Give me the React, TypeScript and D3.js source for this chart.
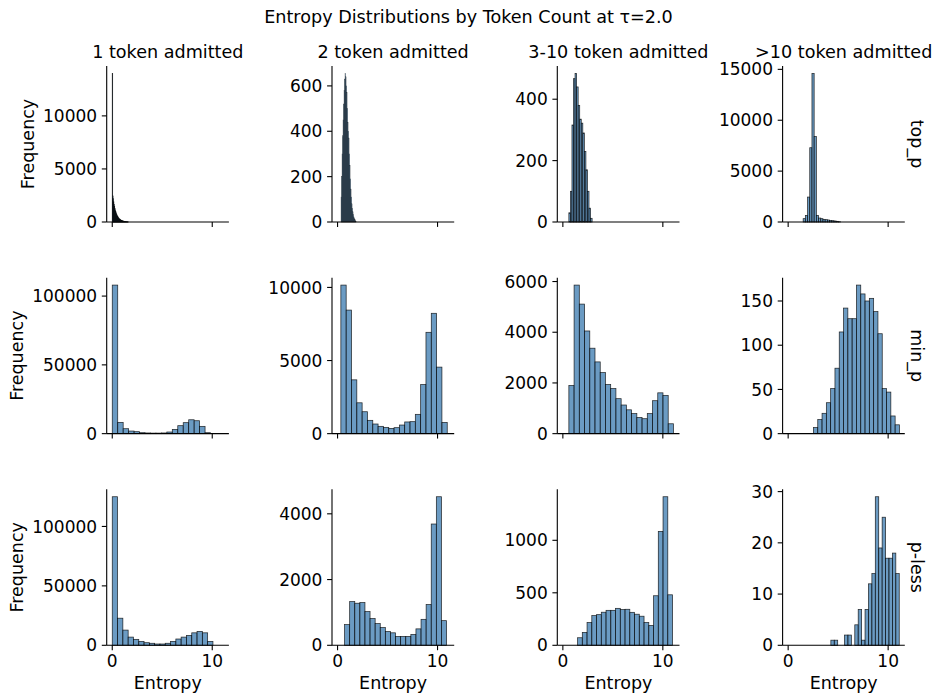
import React from "react";
import * as d3 from "d3";

// Facet labels
const methods = ["top_p", "min_p", "p-less"];
const tokenGroups = ["1 token admitted", "2 token admitted", "3-10 token admitted", ">10 token admitted"];

// Histogram counts per facet (row = sampling method, column = token group)
const topP1 = [14000, 2450, 2200, 1900, 1650, 1450, 1280, 1130, 990, 870, 760, 670, 590, 510, 450, 390, 345, 300, 265, 230, 200, 175, 155, 135, 120, 105, 92, 80, 70, 60, 52, 45, 38, 32, 27, 22, 18, 14, 10, 7];
const topP2 = [110, 200, 300, 380, 450, 520, 580, 630, 655, 640, 600, 570, 500, 440, 400, 370, 300, 250, 190, 145, 110, 80, 60, 45, 32, 22, 15, 10, 6, 3];
const topP3 = [30, 100, 316, 467, 484, 440, 380, 335, 322, 290, 230, 170, 100, 45, 12];
const topP4 = [330, 650, 2450, 7300, 14600, 8400, 650, 390, 330, 260, 230, 200, 160, 130, 100, 65, 30];

const minP1 = [108000, 8200, 3600, 1900, 1450, 700, 500, 400, 400, 500, 1200, 3100, 5800, 8000, 10100, 9400, 5300, 700];
const minP2 = [10160, 8450, 3680, 2110, 1500, 910, 660, 500, 430, 360, 410, 590, 800, 820, 1320, 3360, 6930, 8230, 4550, 770];
const minP3 = [1900, 5860, 5110, 4050, 3370, 2830, 2410, 1940, 1780, 1380, 1130, 940, 790, 640, 590, 790, 1300, 1610, 1510, 390];
const minP4 = [7, 16, 23, 35, 51, 74, 115, 142, 130, 130, 168, 158, 150, 153, 138, 113, 51, 47, 20, 10];

const pLess1 = [125000, 22800, 12800, 6900, 5000, 3300, 2200, 1700, 1100, 1100, 1700, 3300, 5300, 6900, 8300, 10500, 11700, 10500, 3300];
const pLess2 = [630, 1330, 1280, 1300, 1025, 815, 660, 540, 420, 380, 270, 270, 270, 330, 500, 790, 1240, 3690, 4520, 750];
const pLess3 = [72, 123, 217, 283, 292, 315, 333, 333, 352, 340, 343, 314, 296, 277, 217, 189, 472, 1085, 1415, 481];
const pLess4 = [1, 1, 0, 0, 2, 2, 0, 4, 7, 1, 7, 12, 14, 29, 19, 25, 17, 17, 18, 14];

const counts = [
  [topP1, topP2, topP3, topP4],
  [minP1, minP2, minP3, minP4],
  [pLess1, pLess2, pLess3, pLess4],
];

// Left edge of the first bin and the bin width (entropy units)
const binStart = [
  [0, 0.35, 0.6, 1.5],
  [0, 0.33, 0.6, 2.53],
  [0, 0.7, 1.47, 4.27],
];
const binWidth = [
  [0.04, 0.05, 0.155, 0.22],
  [0.546, 0.532, 0.523, 0.43],
  [0.53, 0.51, 0.475, 0.342],
];

// Axis ticks
const xTicks = [0, 10];
const xDomain: [number, number] = [-0.556, 11.666];
const yTicks = [
  [0, 5000, 10000],
  [0, 200, 400, 600],
  [0, 200, 400],
  [0, 5000, 10000, 15000],
  [0, 50000, 100000],
  [0, 5000, 10000],
  [0, 2000, 4000, 6000],
  [0, 50, 100, 150],
  [0, 50000, 100000],
  [0, 2000, 4000],
  [0, 500, 1000],
  [0, 10, 20, 30],
];

const W = 937;
const H = 696;
const FONT = "DejaVu Sans, sans-serif";
const TICK_FS = 17;
const LABEL_FS = 17.5;
const TITLE_FS = 17.6;
const PANEL_W = 122.2;
const PANEL_H = 156;
const COL0 = 106.7;
const COL_STEP = 225.3;
const ROW0 = 66;
const ROW_STEP = 211.65;
const TICK_LEN = 4.9;
const TICK_PAD = 4.7;

const BAR_FILL = "steelblue";

// Edge width shrinks for moderately narrow bars so the fill still shows through
function edgeWidth(binPx: number) {
  if (binPx < 0.45) return 0.75;
  if (binPx < 1) return 0.42;
  return 0.75;
}

function Panel({ r, c }: { r: number; c: number }) {
  const left = COL0 + c * COL_STEP;
  const top = ROW0 + r * ROW_STEP;
  const data = counts[r][c];
  const start = binStart[r][c];
  const bw = binWidth[r][c];
  const x = d3.scaleLinear().domain(xDomain).range([0, PANEL_W]);
  const yMax = (d3.max(data) as number) * 1.05;
  const y = d3.scaleLinear().domain([0, yMax]).range([PANEL_H, 0]);
  const ticks = yTicks[r * 4 + c];
  const isBottom = r === 2;
  const isLast = c === 3;
  const widest = d3.max(ticks, (t) => String(t).length) as number;
  const sw = edgeWidth(x(start + bw) - x(start));

  return (
    <g transform={`translate(${left},${top})`}>
      {data.map((v, i) => {
        if (v <= 0) return null;
        const x0 = x(start + i * bw);
        const x1 = x(start + (i + 1) * bw);
        return (
          <rect
            key={i}
            x={x0}
            y={y(v)}
            width={x1 - x0}
            height={PANEL_H - y(v)}
            fill={BAR_FILL}
            fillOpacity={0.8}
            stroke="#000"
            strokeOpacity={0.8}
            strokeWidth={sw}
          />
        );
      })}
      {/* spines */}
      <line x1={0} x2={0} y1={0} y2={PANEL_H} stroke="#000" strokeWidth={1.1} />
      <line x1={0} x2={PANEL_W} y1={PANEL_H} y2={PANEL_H} stroke="#000" strokeWidth={1.1} />
      {/* y ticks */}
      {ticks.map((t) => (
        <g key={t} transform={`translate(0,${y(t)})`}>
          <line x1={-TICK_LEN} x2={0} stroke="#000" strokeWidth={1.1} />
          <text
            x={-TICK_LEN - TICK_PAD}
            dy="0.36em"
            textAnchor="end"
            fontSize={TICK_FS}
            fontFamily={FONT}
            fill="#000"
          >
            {t}
          </text>
        </g>
      ))}
      {/* x ticks */}
      {xTicks.map((t) => (
        <g key={t} transform={`translate(${x(t)},${PANEL_H})`}>
          <line y1={0} y2={TICK_LEN} stroke="#000" strokeWidth={1.1} />
          {isBottom && (
            <text y={22} textAnchor="middle" fontSize={TICK_FS} fontFamily={FONT} fill="#000">
              {t}
            </text>
          )}
        </g>
      ))}
      {isBottom && (
        <text x={PANEL_W / 2} y={PANEL_H + 44} textAnchor="middle" fontSize={LABEL_FS} fontFamily={FONT} fill="#000">
          Entropy
        </text>
      )}
      {c === 0 && (
        <text
          transform={`translate(${-TICK_LEN - TICK_PAD - widest * 0.636 * TICK_FS - 5.5 - 4},${PANEL_H / 2}) rotate(-90)`}
          textAnchor="middle"
          fontSize={LABEL_FS}
          fontFamily={FONT}
          fill="#000"
        >
          Frequency
        </text>
      )}
      {r === 0 && (
        <text x={PANEL_W / 2} y={-8} textAnchor="middle" fontSize={TITLE_FS} fontFamily={FONT} fill="#000">
          {tokenGroups[c]}
        </text>
      )}
      {isLast && (
        <text
          transform={`translate(${PANEL_W + 2.4 + 4},${PANEL_H / 2}) rotate(90)`}
          textAnchor="middle"
          fontSize={LABEL_FS}
          fontFamily={FONT}
          fill="#000"
        >
          {methods[r]}
        </text>
      )}
    </g>
  );
}

export default function App() {
  const cells: { r: number; c: number }[] = [];
  methods.forEach((_, r) => tokenGroups.forEach((__, c) => cells.push({ r, c })));
  return (
    <svg
      width={W}
      height={H}
      viewBox={`0 0 ${W} ${H}`}
      style={{ position: "absolute", left: 0, top: 0, background: "#fff" }}
    >
      <rect width={W} height={H} fill="#fff" />
      <text x={W / 2} y={23} textAnchor="middle" fontSize={TITLE_FS} fontFamily={FONT} fill="#000">
        Entropy Distributions by Token Count at τ=2.0
      </text>
      {cells.map(({ r, c }) => (
        <Panel key={`${r}-${c}`} r={r} c={c} />
      ))}
    </svg>
  );
}
